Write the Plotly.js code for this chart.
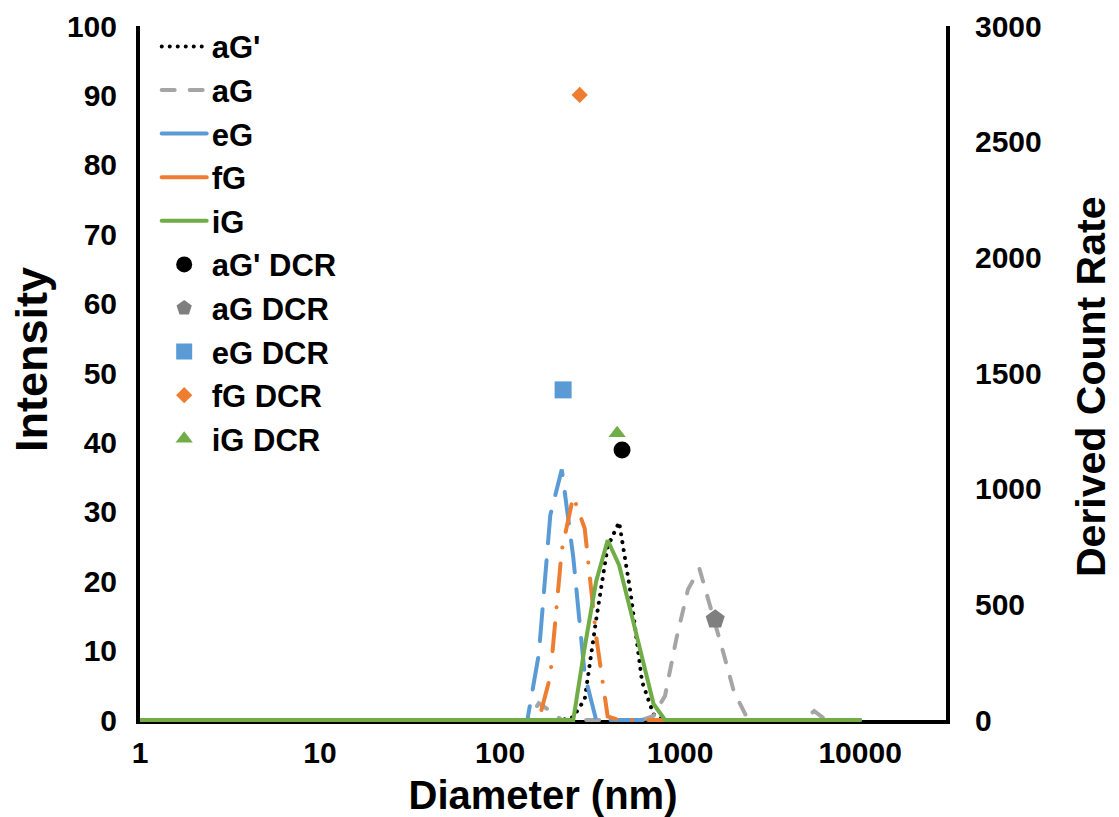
<!DOCTYPE html>
<html>
<head>
<meta charset="utf-8">
<script src="https://cdn.plot.ly/plotly-3.0.1.min.js"></script>
<style>
  html, body { margin: 0; padding: 0; background: #fff; }
  #chart { width: 1119px; height: 817px; }
  /* rounded dash ends and dots */
  #chart .js-line { stroke-linecap: round !important; }
</style>
</head>
<body>
<div id="chart"></div>
<script>
// Size bins (nm) of the DLS size distribution
const diameter = [0.4, 0.4632, 0.5365, 0.6213, 0.7195, 0.8332, 0.9649, 1.117, 1.294, 1.499,
  1.736, 2.01, 2.328, 2.696, 3.122, 3.615, 4.187, 4.849, 5.615, 6.503,
  7.531, 8.721, 10.1, 11.7, 13.54, 15.69, 18.17, 21.04, 24.36, 28.21,
  32.67, 37.84, 43.82, 50.75, 58.77, 68.06, 78.82, 91.28, 105.7, 122.4,
  141.8, 164.2, 190.1, 220.2, 255, 295.3, 342, 396.1, 458.7, 531.2,
  615.1, 712.4, 825, 955.4, 1106, 1281, 1484, 1718, 1990, 2305,
  2669, 3091, 3580, 4145, 4801, 5560, 6439, 7456, 8635, 10000];

// Intensity distributions (%)
const intensityAGp = [0, 0, 0, 0, 0, 0, 0, 0, 0, 0,
  0, 0, 0, 0, 0, 0, 0, 0, 0, 0,
  0, 0, 0, 0, 0, 0, 0, 0, 0, 0,
  0, 0, 0, 0, 0, 0, 0, 0, 0, 0,
  0, 0, 0, 0, 0.4, 3, 14.5, 25, 28.5, 18.3,
  5.5, 0.8, 0, 0, 0, 0, 0, 0, 0, 0,
  0, 0, 0, 0, 0, 0, 0, 0, 0, 0];
const intensityAG = [0, 0, 0, 0, 0, 0, 0, 0, 0, 0,
  0, 0, 0, 0, 0, 0, 0, 0, 0, 0,
  0, 0, 0, 0, 0, 0, 0, 0, 0, 0,
  0, 0, 0, 0, 0, 0, 0, 0, 0, 0,
  0, 2.4, 1.3, 0, 0, 0, 0, 0, 0, 0,
  0, 0.6, 3.5, 11.8, 18.8, 21.8, 16.2, 10.2, 4.1, 0.8,
  0, 0, 0, 0, 0, 1.3, 0, 0, 0, 0];
const intensityEG = [0, 0, 0, 0, 0, 0, 0, 0, 0, 0,
  0, 0, 0, 0, 0, 0, 0, 0, 0, 0,
  0, 0, 0, 0, 0, 0, 0, 0, 0, 0,
  0, 0, 0, 0, 0, 0, 0, 0, 0, 0,
  0, 9.5, 29.5, 36.1, 23.5, 6.5, 0, 0, 0, 0,
  0, 0, 0, 0, 0, 0, 0, 0, 0, 0,
  0, 0, 0, 0, 0, 0, 0, 0, 0, 0];
const intensityFG = [0, 0, 0, 0, 0, 0, 0, 0, 0, 0,
  0, 0, 0, 0, 0, 0, 0, 0, 0, 0,
  0, 0, 0, 0, 0, 0, 0, 0, 0, 0,
  0, 0, 0, 0, 0, 0, 0, 0, 0, 0,
  0, 0, 6.3, 24.5, 32.2, 27.6, 12, 0.5, 0, 0,
  0, 0, 0, 0, 0, 0, 0, 0, 0, 0,
  0, 0, 0, 0, 0, 0, 0, 0, 0, 0];
const intensityIG = [0, 0, 0, 0, 0, 0, 0, 0, 0, 0,
  0, 0, 0, 0, 0, 0, 0, 0, 0, 0,
  0, 0, 0, 0, 0, 0, 0, 0, 0, 0,
  0, 0, 0, 0, 0, 0, 0, 0, 0, 0,
  0, 0, 0, 0, 0, 10.5, 20, 25.9, 22.3, 15.7,
  9.1, 2.3, 0, 0, 0, 0, 0, 0, 0, 0,
  0, 0, 0, 0, 0, 0, 0, 0, 0, 0];

// Derived count rate of each sample, placed at its mean size
const dcrNames = ["aG' DCR", "aG DCR", "eG DCR", "fG DCR", "iG DCR"];
const dcrSize = [476, 1567, 224, 277, 447];
const dcrRate = [1167, 435, 1427, 2702, 1240];

const xTickVals = [1, 10, 100, 1000, 10000];
const xTickText = ['1', '10', '100', '1000', '10000'];

const FONT = 'Liberation Sans, Arial, Helvetica, sans-serif';
const LW = 4;

function lineTrace(name, y, color, dash) {
  return {
    type: 'scatter', mode: 'lines', name: name, legendgroup: name,
    x: diameter, y: y, yaxis: 'y',
    line: { color: color, width: LW, dash: dash },
    hoverinfo: 'skip'
  };
}

const markerStyles = [
  { symbol: 'circle', color: '#000000', size: 17 },
  { symbol: 'pentagon', color: '#7F7F7F', size: 20 },
  { symbol: 'square', color: '#5B9BD5', size: 17 },
  { symbol: 'diamond', color: '#ED7D31', size: 12.5 },
  { symbol: 'triangle-up', color: '#70AD47', size: 15 }
];

const traces = [
  lineTrace("aG'", intensityAGp, '#000000', '0.1px,7.9px'),
  lineTrace('aG', intensityAG, '#A5A5A5', '13px,15px'),
  lineTrace('eG', intensityEG, '#5B9BD5', '32px,17px'),
  lineTrace('fG', intensityFG, '#ED7D31', '28px,16px,0.1px,16px'),
  lineTrace('iG', intensityIG, '#70AD47', 'solid')
];
dcrNames.forEach((n, i) => {
  traces.push({
    type: 'scatter', mode: 'markers', name: n, legendgroup: n,
    x: [dcrSize[i]], y: [dcrRate[i]], yaxis: 'y2',
    marker: { symbol: markerStyles[i].symbol, color: markerStyles[i].color,
              size: markerStyles[i].size, line: { width: 0 } },
    hoverinfo: 'skip'
  });
});

const tickFont = { family: FONT, size: 30, color: '#000', weight: 'bold' };
const titleFont = (s) => ({ family: FONT, size: s, color: '#000', weight: 'bold' });

const layout = {
  width: 1119, height: 817,
  margin: { l: 140, r: 173, t: 26, b: 97, pad: 0 },
  paper_bgcolor: '#ffffff', plot_bgcolor: '#ffffff',
  font: { family: FONT, color: '#000', weight: 'bold' },
  showlegend: true,
  legend: {
    x: 0.0207, y: 1.009, xanchor: 'left', yanchor: 'top',
    bgcolor: 'rgba(0,0,0,0)', borderwidth: 0,
    font: { family: FONT, size: 31, color: '#000', weight: 'bold' },
    itemwidth: 45, tracegroupgap: 0.3, traceorder: 'grouped',
    maxheight: 780
  },
  xaxis: {
    type: 'log', range: [0, Math.log10(30000)],
    tickmode: 'array', tickvals: xTickVals, ticktext: xTickText,
    showgrid: false, zeroline: false, showline: true,
    linecolor: '#000', linewidth: LW, ticks: '',
    tickfont: tickFont, ticklabelstandoff: 3,
    title: { text: 'Diameter (nm)', font: titleFont(40), standoff: 15 },
    layer: 'below traces'
  },
  yaxis: {
    range: [0, 100], dtick: 10, tick0: 0,
    showgrid: false, zeroline: false, showline: true,
    linecolor: '#000', linewidth: LW, ticks: '',
    tickfont: tickFont, ticklabelstandoff: 13,
    layer: 'below traces'
  },
  yaxis2: {
    overlaying: 'y', side: 'right', anchor: 'x',
    range: [0, 3000], dtick: 500, tick0: 0,
    showgrid: false, zeroline: false, showline: true,
    linecolor: '#000', linewidth: LW, ticks: '',
    tickfont: tickFont, ticklabelstandoff: 19,
    layer: 'below traces'
  },
  annotations: [
    { text: 'Intensity', textangle: -90, font: titleFont(45), showarrow: false,
      xref: 'paper', yref: 'paper', x: -0.1352, y: 0.5187,
      xanchor: 'center', yanchor: 'middle' },
    { text: 'Derived Count Rate', textangle: -90, font: titleFont(41), showarrow: false,
      xref: 'paper', yref: 'paper', x: 1.1799, y: 0.4798,
      xanchor: 'center', yanchor: 'middle' }
  ]
};

Plotly.newPlot('chart', traces, layout, { staticPlot: true, displayModeBar: false }).then(gd => {
  // let the zero-level lines show their full width at the bottom edge
  gd.querySelectorAll('clipPath[id$="plot"] rect').forEach(r => {
    const y = parseFloat(r.getAttribute('y') || 0);
    const h = parseFloat(r.getAttribute('height') || 0);
    r.setAttribute('y', y - 6);
    r.setAttribute('height', h + 12);
  });
  // legend samples of eG and fG are drawn solid
  gd.querySelectorAll('.legend .traces').forEach(g => {
    const d = g.__data__;
    const tr = d && d[0] && d[0].trace;
    if (tr && (tr.name === 'eG' || tr.name === 'fG')) {
      g.querySelectorAll('.js-line').forEach(p => { p.style.strokeDasharray = 'none'; });
    }
  });
});
</script>
</body>
</html>
